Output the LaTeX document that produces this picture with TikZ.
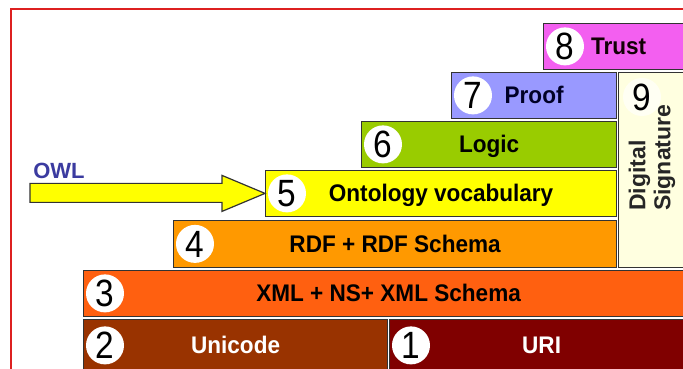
\documentclass[tikz,border=0pt]{standalone}
\usepackage{fontspec}
\setmainfont{Liberation Sans}
\usetikzlibrary{calc}
\definecolor{ctrust}{HTML}{F35FF0}
\definecolor{cproof}{HTML}{9999FF}
\definecolor{clogic}{HTML}{99CC00}
\definecolor{conto}{HTML}{FFFF00}
\definecolor{crdf}{HTML}{FF9900}
\definecolor{cxml}{HTML}{FF6010}
\definecolor{cuni}{HTML}{993300}
\definecolor{curi}{HTML}{800000}
\definecolor{csig}{HTML}{FFFFE0}
\definecolor{cedge}{HTML}{333333}
\definecolor{cowl}{HTML}{3B3BA0}
\definecolor{cframe}{HTML}{DD2020}
\newcommand\lbl[1]{\scalebox{0.94}[1]{#1}}
\newcommand\dig[1]{\scalebox{0.88}[1]{#1}}
\begin{document}
\begin{tikzpicture}[x=1pt,y=1pt,
  layer/.style={draw=cedge, line width=1.2pt, anchor=south west, inner sep=0pt,
    text height=17.2pt, text depth=0pt,
    font=\fontsize{24}{26}\selectfont\bfseries},
  num/.style={circle, fill=white, minimum size=38pt, inner sep=0pt,
    text height=27.2pt, text depth=0pt,
    font=\fontsize{38}{38}\selectfont},
  owlarrow/.style={draw=cedge, line width=1.2pt, fill=conto, line join=miter}
]
\clip (0,0) rectangle (683,369);
\fill[white] (0,0) rectangle (683,369);
\draw[cframe, line width=1.5pt] (11,-10) -- (11,360) -- (700,360);

\node[layer, fill=ctrust, minimum width=150pt, minimum height=46pt, text=black!90!purple] (trust) at (543,299) {\lbl{Trust}};
\node[layer, fill=cproof, minimum width=165pt, minimum height=46pt, text=black!85!blue] (proof) at (451,250) {\lbl{Proof}};
\node[layer, fill=csig, minimum width=72pt, minimum height=195pt] (sig) at (618,101) {};
\node[layer, fill=clogic, minimum width=255pt, minimum height=46pt] (logic) at (361,201) {\lbl{Logic}};
\node[layer, fill=conto, minimum width=351pt, minimum height=46pt] (onto) at (265,152) {\lbl{Ontology vocabulary}};
\node[layer, fill=crdf, minimum width=443pt, minimum height=47pt] (rdf) at (173,101) {\lbl{RDF + RDF Schema}};
\node[layer, fill=cxml, minimum width=610pt, minimum height=46pt] (xml) at (83,52) {\lbl{XML + NS+ XML Schema}};
\node[layer, fill=cuni, minimum width=304pt, minimum height=52pt, text=white] (uni) at (83,-3) {\lbl{Unicode}};
\node[layer, fill=curi, minimum width=304pt, minimum height=52pt, text=white] (uri) at (389,-3) {\lbl{URI}};

\node[num] (n8) at ([xshift=22pt]trust.west) {\dig{8}};
\node[num] (n7) at ([xshift=22pt]proof.west) {\dig{7}};
\node[num] (n6) at ([xshift=22pt]logic.west) {\dig{6}};
\node[num] (n5) at ([xshift=22pt]onto.west) {\dig{5}};
\node[num] (n4) at ([xshift=22pt]rdf.west) {\dig{4}};
\node[num] (n3) at ([xshift=22pt]xml.west) {\dig{3}};
\node[num] (n2) at ([xshift=22pt]uni.west) {\dig{2}};
\node[num] (n1) at ([xshift=22pt]uri.west) {\dig{1}};
\node[num, fill=white!60!csig] (n9) at (642,272) {\dig{9}};
\node[rotate=90, align=left, anchor=west, inner sep=0pt,
  font=\fontsize{23}{25}\selectfont\bfseries, text=black!85] (sigtext) at (652,158) {Digital\\Signature};

\node[font=\fontsize{22}{22}\selectfont\bfseries, text=cowl] (owl) at (59,198) {OWL};
\draw[owlarrow] (onto.west) -- ++(-43,18) -- ++(0,-8) -- ++(-192,0) -- ++(0,-19)
  -- ++(192,0) -- ++(0,-9) -- cycle;
\end{tikzpicture}
\end{document}
